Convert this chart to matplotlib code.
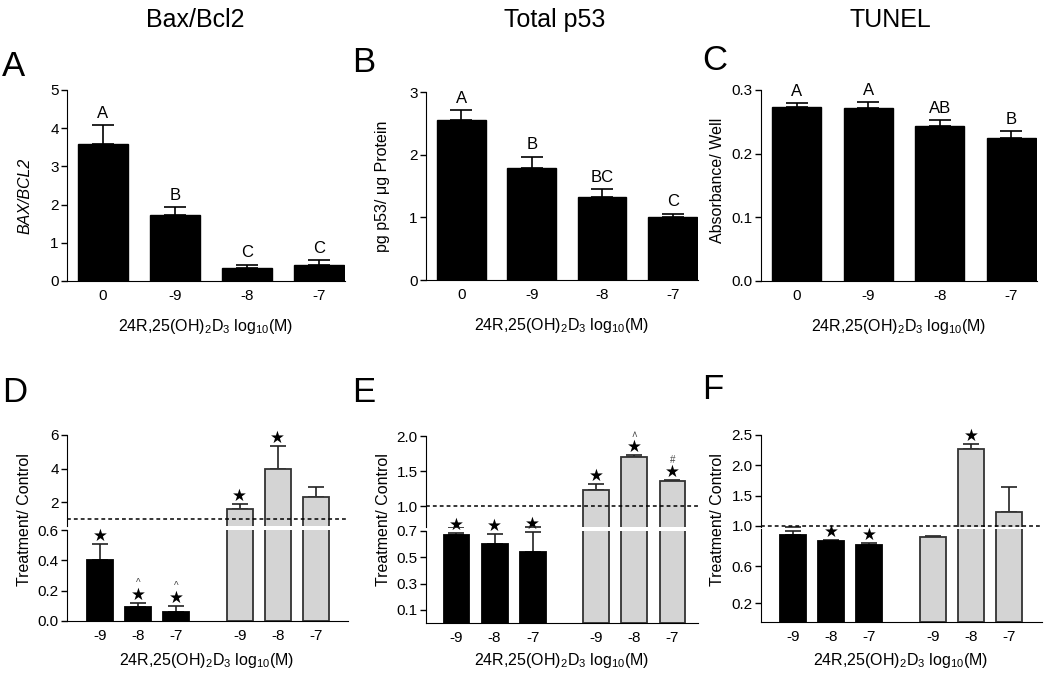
import numpy as np
import matplotlib
matplotlib.use("Agg")
import matplotlib.pyplot as plt

plt.rcParams['font.family'] = ['Liberation Sans', 'DejaVu Sans']
plt.rcParams['mathtext.fontset'] = 'custom'
plt.rcParams['mathtext.rm'] = 'Liberation Sans'
plt.rcParams['mathtext.it'] = 'Liberation Sans:italic'
plt.rcParams['mathtext.default'] = 'regular'

#%% data
top_cats = ['0', '-9', '-8', '-7']
bot_cats = ['-9', '-8', '-7', '-9', '-8', '-7']

A_mean = [3.59, 1.73, 0.33, 0.41]
A_err = [0.49, 0.20, 0.10, 0.13]
A_let = ['A', 'B', 'C', 'C']

B_mean = [2.56, 1.79, 1.32, 1.00]
B_err = [0.15, 0.18, 0.13, 0.06]
B_let = ['A', 'B', 'BC', 'C']

C_mean = [0.274, 0.271, 0.244, 0.225]
C_err = [0.006, 0.010, 0.009, 0.011]
C_let = ['A', 'A', 'AB', 'B']

D_mean = [0.40, 0.09, 0.06, 1.60, 3.96, 2.30]
D_err = [0.105, 0.03, 0.04, 0.30, 1.38, 0.64]
D_star = ['★', '★', '★', '★', '★', '']
D_mark = ['', '^', '^', '', '', '']

E_mean = [0.669, 0.600, 0.540, 1.226, 1.707, 1.356]
E_err = [0.018, 0.077, 0.155, 0.094, 0.024, 0.014]
E_star = ['★', '★', '★', '★', '★', '★']
E_mark = ['', '', '', '', '˄', '#']

F_mean = [0.94, 0.866, 0.827, 0.913, 2.265, 1.22]
F_err = [0.035, 0.014, 0.023, 0.017, 0.085, 0.415]
F_star = ['', '★', '★', '', '★', '']
F_mark = ['', '', '', '', '', '']

W, H = 1050, 676
fig = plt.figure(figsize=(W/100, H/100), dpi=100)

xlab = '24R,25(OH)$_2$D$_3$ log$_{10}$(M)'
grey = '#d4d4d4'

def px_axes(l, t, r, b):
    return fig.add_axes([l/W, 1 - b/H, (r - l)/W, (b - t)/H])

def style(ax, bottom=True):
    for s in ['top', 'right']:
        ax.spines[s].set_visible(False)
    if not bottom:
        ax.spines['bottom'].set_visible(False)
    ax.tick_params(axis='y', direction='out', length=4, width=1, labelsize=11, pad=2)
    ax.tick_params(axis='x', length=0, labelsize=11, pad=6)
    ax.set_facecolor('none')

def ylab(xc, yc, text, italic=False):
    fig.text(xc/W, 1 - yc/H, text, rotation=90, ha='center', va='center', fontsize=11.5,
             style='italic' if italic else 'normal')

#%% top row
def top_panel(l, t, r, b, mean, err, lets, ymax, yticks, fmt):
    ax = px_axes(l, t, r, b)
    x = np.arange(4)
    ax.bar(x, mean, width=0.69, color='black', edgecolor='black', zorder=2)
    ax.errorbar(x, mean, yerr=[np.zeros(4), err], fmt='none', ecolor='black',
                elinewidth=1.2, capsize=8, capthick=1.2, zorder=1)
    for i in range(4):
        ax.annotate(lets[i], (x[i], mean[i] + err[i]), xytext=(0, 3),
                    textcoords='offset points', ha='center', va='bottom', fontsize=12)
    ax.set_xlim(-0.5, 3.36)
    ax.set_ylim(0, ymax)
    ax.set_yticks(yticks)
    ax.set_yticklabels([fmt.format(v) for v in yticks])
    ax.set_xticks(x)
    ax.set_xticklabels(top_cats)
    style(ax)
    ax.set_xlabel(xlab, fontsize=11.5, labelpad=10)
    return ax

axA = top_panel(67, 90, 345, 281, A_mean, A_err, A_let, 5, [0, 1, 2, 3, 4, 5], '{:.0f}')
axB = top_panel(426, 92, 698, 280, B_mean, B_err, B_let, 3, [0, 1, 2, 3], '{:.0f}')
axC = top_panel(761, 90, 1037, 281, C_mean, C_err, C_let, 0.3, [0, 0.1, 0.2, 0.3], '{:.1f}')
ylab(25, 196, 'BAX/BCL2', italic=True)
ylab(383, 186, 'pg p53/ μg Protein')
ylab(717, 180, 'Absorbance/ Well')

#%% bottom row (broken axes)
xb = np.array([0, 1, 2, 3.67, 4.67, 5.67])
cols = ['black'] * 3 + [grey] * 3
edges = ['black'] * 3 + ['#333333'] * 3

def bot_panel(l, r, lo_px, hi_px, xl, mean, err, stars, marks, lo_lim, hi_lim,
              lo_ticks, lo_fmt, hi_ticks, hi_fmt):
    lo = px_axes(l, lo_px[0], r, lo_px[1])
    hi = px_axes(l, hi_px[0], r, hi_px[1])
    for ax in (lo, hi):
        ax.bar(xb, mean, width=0.68, color=cols, edgecolor=edges, linewidth=1.3, zorder=2)
        ax.errorbar(xb, mean, yerr=[np.zeros(6), err], fmt='none', ecolor='#222222',
                    elinewidth=1.2, capsize=6, capthick=1.2, zorder=1)
        ax.set_xlim(*xl)
    lo.set_ylim(*lo_lim)
    hi.set_ylim(*hi_lim)
    lo.set_yticks(lo_ticks)
    lo.set_yticklabels([lo_fmt.format(v) for v in lo_ticks])
    hi.set_yticks(hi_ticks)
    hi.set_yticklabels([hi_fmt.format(v) for v in hi_ticks])
    lo.set_xticks(xb)
    lo.set_xticklabels(bot_cats)
    hi.set_xticks([])
    style(lo)
    style(hi, bottom=False)
    hi.axhline(1.0, color='black', ls=(0, (2.5, 2)), lw=1.1, zorder=5, clip_on=False)
    for i in range(6):
        top = mean[i] + err[i]
        ax = hi if top > lo_lim[1] else lo
        if stars[i]:
            ax.annotate(stars[i], (xb[i], top), xytext=(0, 0), textcoords='offset points',
                        ha='center', va='bottom', fontsize=12)
        if marks[i]:
            ax.annotate(marks[i], (xb[i], top), xytext=(0, 11), textcoords='offset points',
                        ha='center', va='bottom', fontsize=7, color='#444444')
    return lo, hi

loD, hiD = bot_panel(67, 348, (530, 621), (435, 526), (-0.87, 6.52), D_mean, D_err, D_star, D_mark,
                     (0, 0.6), (0.6, 6), [0, 0.2, 0.4, 0.6], '{:.1f}', [2, 4, 6], '{:.0f}')
loE, hiE = bot_panel(426, 698, (531, 623), (436, 527), (-0.8, 6.34), E_mean, E_err, E_star, E_mark,
                     (0, 0.7), (0.7, 2.0), [0.1, 0.3, 0.5, 0.7], '{:.1f}', [1.0, 1.5, 2.0], '{:.1f}')
loF, hiF = bot_panel(761, 1042, (529, 622), (435, 527), (-0.84, 6.53), F_mean, F_err, F_star, F_mark,
                     (0, 1.0), (0.98, 2.5), [0.2, 0.6], '{:.1f}', [1.0, 1.5, 2.0, 2.5], '{:.1f}')

ylab(25, 520, 'Treatment/ Control')
ylab(383, 520, 'Treatment/ Control')
ylab(717, 520, 'Treatment/ Control')

# bottom x labels placed at a fixed height so none are cut at the edge
for xc in [207, 562, 901]:
    fig.text(xc/W, 1 - 660/H, xlab, ha='center', va='center', fontsize=11.5)

#%% titles and panel letters
for xc, t in [(195, 'Bax/Bcl2'), (555, 'Total p53'), (890, 'TUNEL')]:
    fig.text(xc/W, 1 - 20/H, t, ha='center', va='center', fontsize=18)
for xp, yp, t in [(2, 67, 'A'), (352, 63, 'B'), (702, 60, 'C'),
                  (2, 393, 'D'), (352, 393, 'E'), (702, 390, 'F')]:
    fig.text(xp/W, 1 - yp/H, t, ha='left', va='center', fontsize=25)

fig.savefig('out.png', dpi=100)
